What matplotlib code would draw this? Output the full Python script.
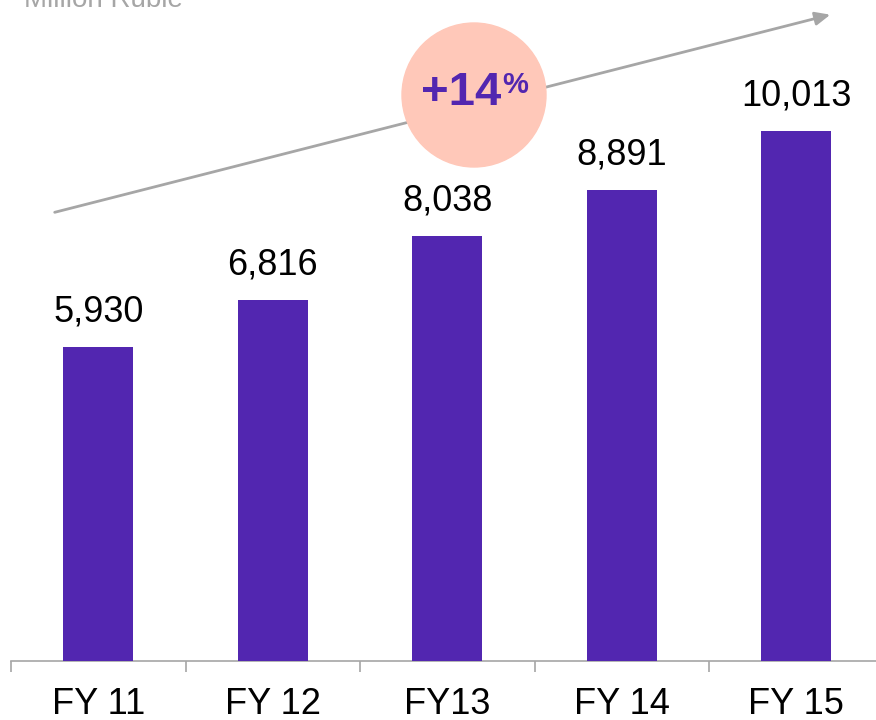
import matplotlib
matplotlib.use("Agg")
from matplotlib import pyplot as plt
from matplotlib.patches import Circle
import numpy as np

years = ["FY 11", "FY 12", "FY13", "FY 14", "FY 15"]
revenue = [5930, 6816, 8038, 8891, 10013]
growth = "+14"
unit = "Million Ruble"

purple = "#5226B0"
grey = "#A6A6A6"

plt.rcParams['font.family'] = ['Liberation Sans', 'DejaVu Sans']

fig = plt.figure(figsize=(8.76, 7.2), dpi=100)
ax = fig.add_axes([11/876, 59/720, 872.5/876, 661/720])

x = np.arange(len(years))
ax.bar(x, revenue, width=0.4, color=purple, zorder=3)
for xi, v in zip(x, revenue):
    ax.text(xi, v + 330, f"{v:,}", ha="center", va="bottom", fontsize=26, color="black")

ax.set_xlim(-0.5, len(years) - 0.5)
ax.set_ylim(0, 12488)
ax.set_yticks([])
for s in ["top", "right", "left"]:
    ax.spines[s].set_visible(False)
ax.spines["bottom"].set_color(grey)
ax.spines["bottom"].set_linewidth(1.2)

ax.set_xticks(x)
ax.set_xticklabels(years, fontsize=26)
ax.tick_params(axis="x", which="major", length=0, pad=19)
ax.set_xticks(np.arange(len(years) + 1) - 0.5, minor=True)
ax.tick_params(axis="x", which="minor", length=8, color=grey, width=1.2)

# trend arrow
ax.annotate("", xy=(833/876, 706/720), xytext=(52/876, 507/720),
            xycoords="figure fraction", textcoords="figure fraction",
            arrowprops=dict(arrowstyle="-|>,head_length=0.9,head_width=0.4",
                            color=grey, lw=2))

# growth bubble
circ = Circle((474, 720 - 95), 72, transform=None, color="#FFC8B9", zorder=5)
fig.patches.append(circ)
fig.text(461/876, (720 - 93)/720, growth, ha="center", va="center",
         fontsize=34, fontweight="bold", color=purple, zorder=6)
fig.text(515/876, (720 - 85)/720, "%", ha="center", va="center",
         fontsize=21, fontweight="bold", color=purple, zorder=6)

fig.text(183/876, 713/720, unit, ha="right", va="baseline", fontsize=20, color=grey)

fig.savefig("out.png", dpi=100)
